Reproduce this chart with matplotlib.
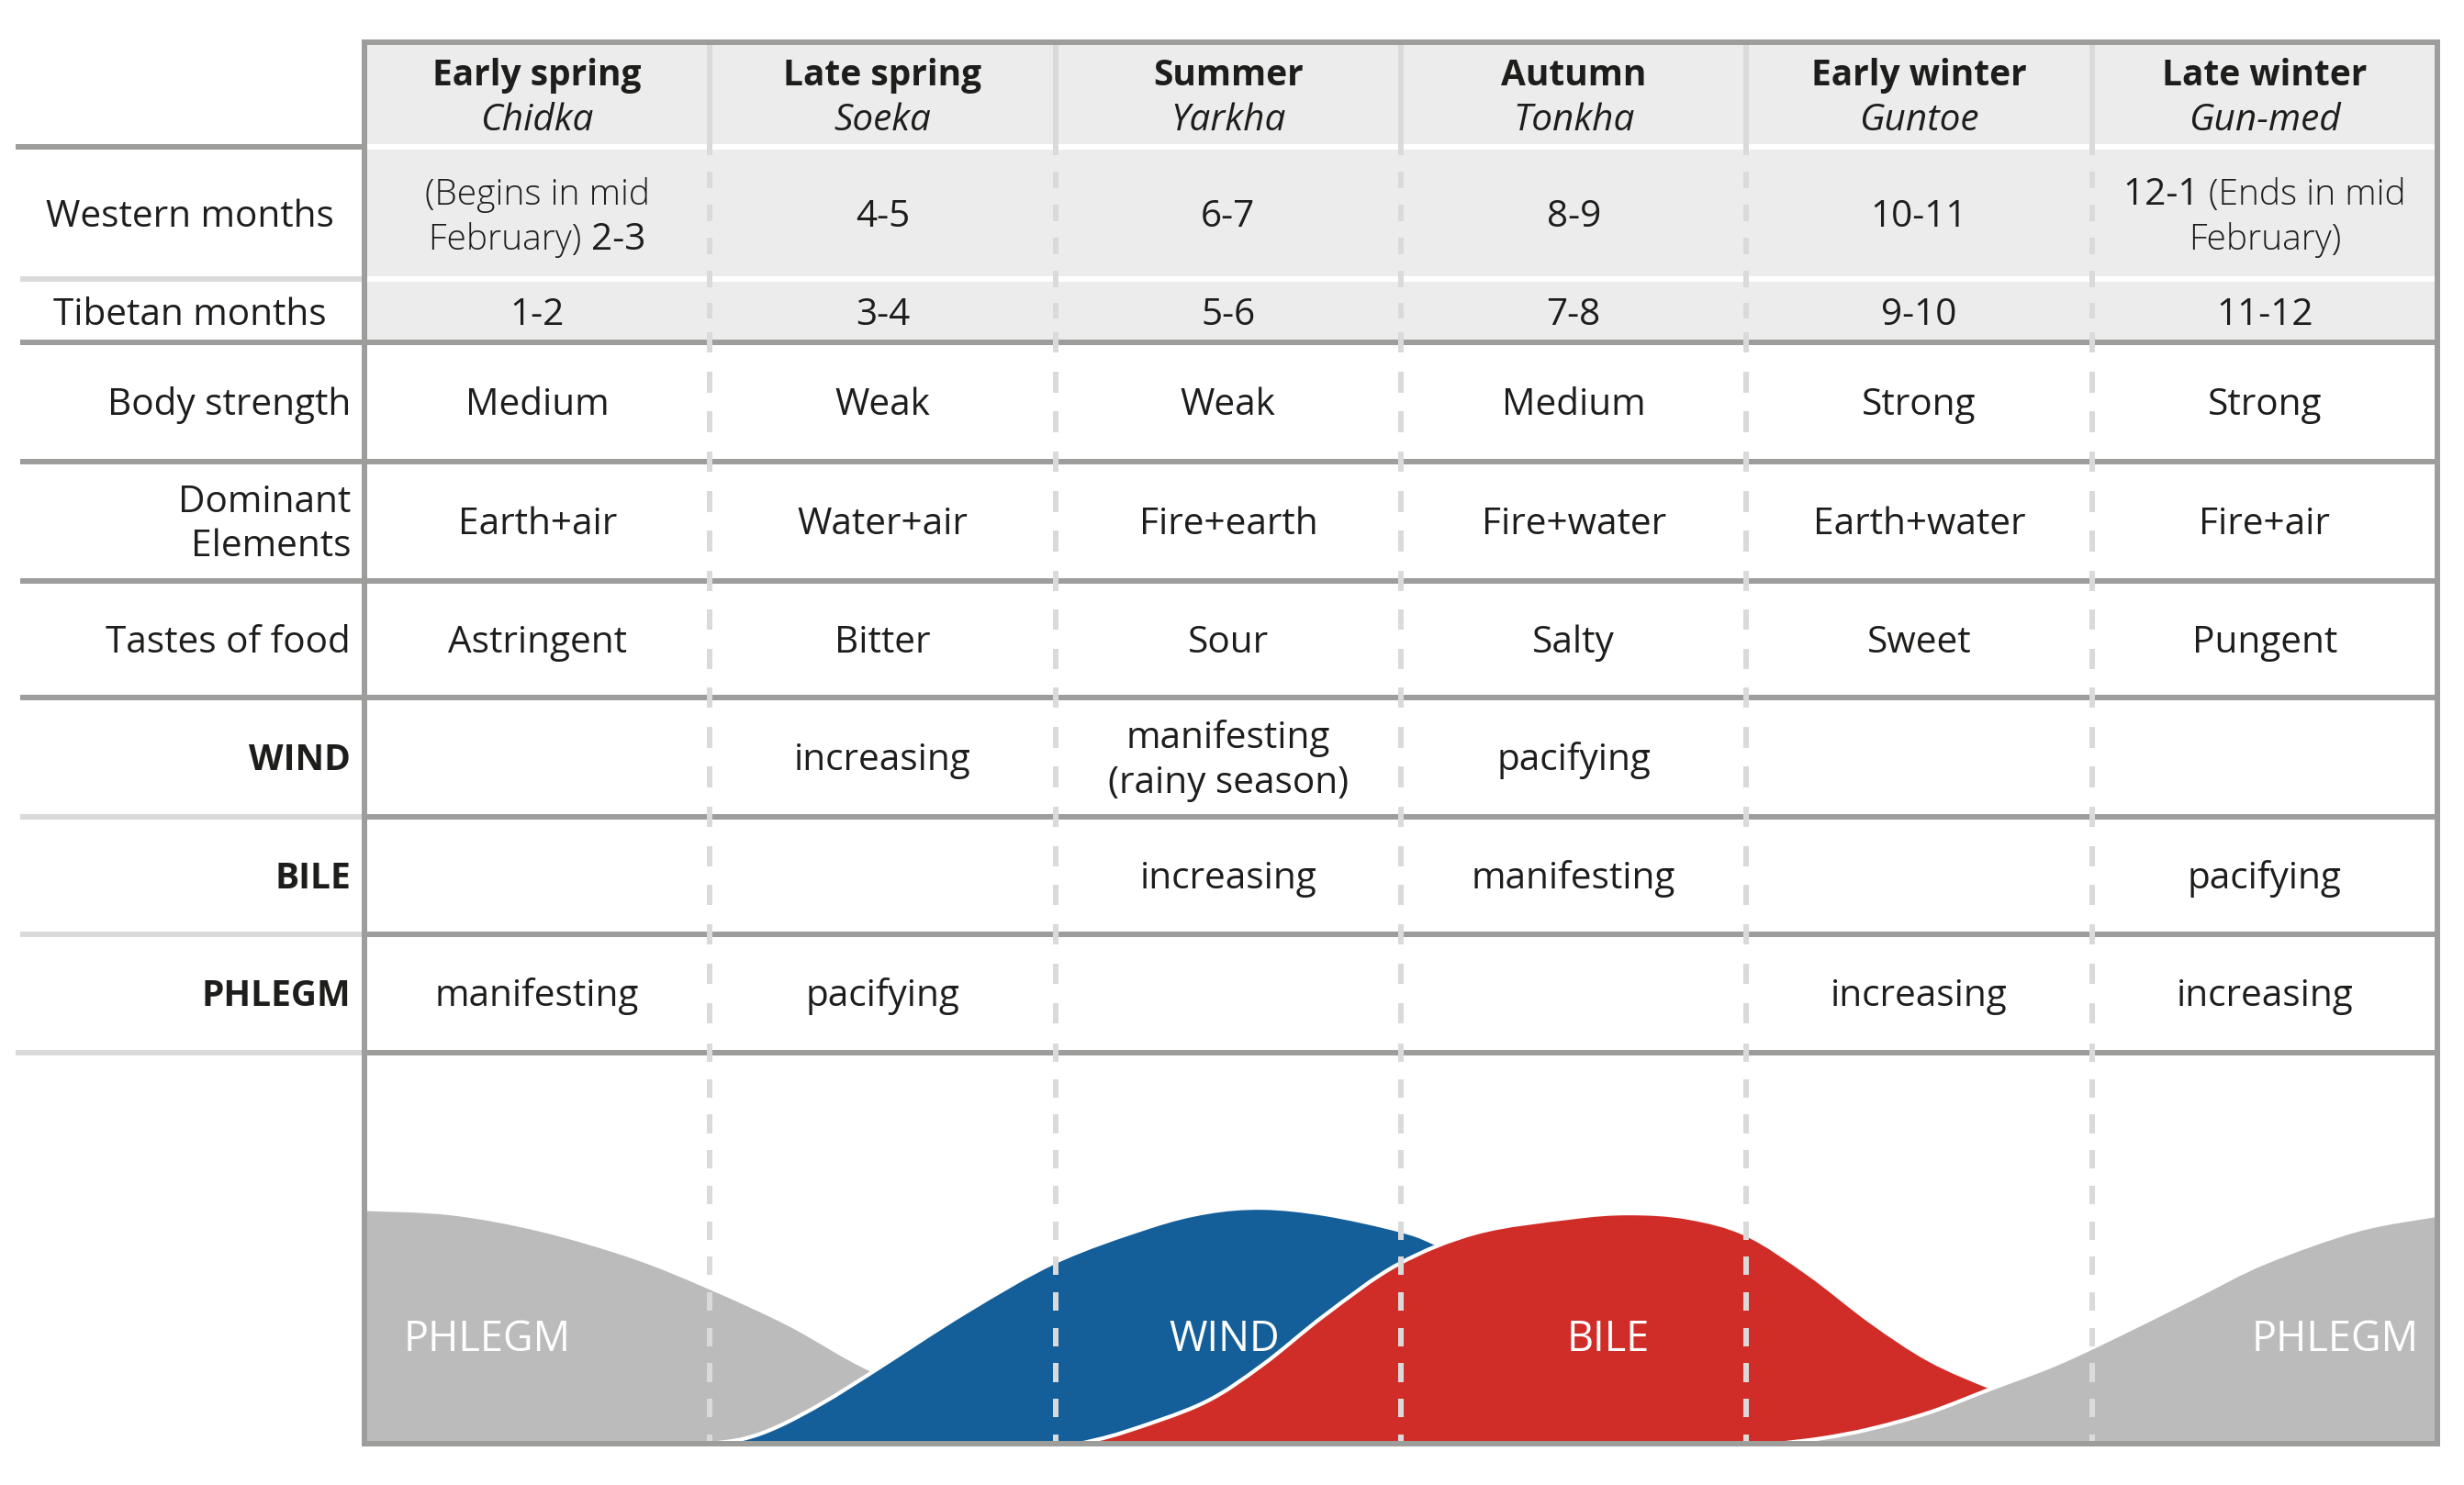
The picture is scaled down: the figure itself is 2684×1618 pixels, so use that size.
import matplotlib
matplotlib.use("Agg")
import matplotlib.pyplot as plt
from matplotlib.path import Path
from matplotlib.patches import PathPatch
from matplotlib.collections import LineCollection
import numpy as np

plt.rcParams['font.family'] = ['Open Sans', 'DejaVu Sans']

# ---------------- data ----------------
seasons = ["Early spring", "Late spring", "Summer", "Autumn", "Early winter", "Late winter"]
tibetan_names = ["Chidka", "Soeka", "Yarkha", "Tonkha", "Guntoe", "Gun-med"]
western_months = ["2-3", "4-5", "6-7", "8-9", "10-11", "12-1"]
western_note_before = ["(Begins in mid February)", "", "", "", "", ""]
western_note_after = ["", "", "", "", "", "(Ends in mid February)"]
tibetan_months = ["1-2", "3-4", "5-6", "7-8", "9-10", "11-12"]
body_strength = ["Medium", "Weak", "Weak", "Medium", "Strong", "Strong"]
dominant_elements = ["Earth+air", "Water+air", "Fire+earth", "Fire+water", "Earth+water", "Fire+air"]
tastes = ["Astringent", "Bitter", "Sour", "Salty", "Sweet", "Pungent"]
wind_phase = ["", "increasing", "manifesting\n(rainy season)", "pacifying", "", ""]
bile_phase = ["", "", "increasing", "manifesting", "", "pacifying"]
phlegm_phase = ["manifesting", "pacifying", "", "", "increasing", "increasing"]

row_labels = ["Western months", "Tibetan months", "Body strength", "Dominant\nElements",
              "Tastes of food", "WIND", "BILE", "PHLEGM"]

# curves: x in season-columns (0..6), level 0..1 of the lower panel
phlegm_early_x = [0.00, 0.25, 0.51, 0.78, 1.00, 1.23, 1.47, 1.75, 2.05, 2.40]
phlegm_early_h = [0.600, 0.589, 0.547, 0.477, 0.399, 0.305, 0.188, 0.100, 0.040, 0.000]

wind_x = [1.00, 1.10, 1.20, 1.33, 1.47, 1.74, 2.00, 2.27, 2.44, 2.60, 2.78, 2.99, 3.10, 3.30, 3.60, 3.90, 4.20, 4.40]
wind_h = [0.000, 0.013, 0.045, 0.106, 0.183, 0.336, 0.465, 0.554, 0.592, 0.603, 0.587, 0.547, 0.512, 0.420, 0.250, 0.100, 0.020, 0.000]

bile_x = [2.07, 2.20, 2.43, 2.60, 2.78, 2.99, 3.22, 3.49, 3.66, 3.83, 4.00, 4.18, 4.36, 4.53, 4.71, 4.90, 5.10, 5.40]
bile_h = [0.000, 0.030, 0.105, 0.202, 0.329, 0.458, 0.540, 0.578, 0.589, 0.578, 0.535, 0.434, 0.312, 0.214, 0.143, 0.080, 0.035, 0.000]

phlegm_late_x = [4.09, 4.22, 4.36, 4.53, 4.71, 4.90, 5.10, 5.30, 5.50, 5.77, 6.00]
phlegm_late_h = [0.000, 0.014, 0.038, 0.080, 0.141, 0.205, 0.288, 0.376, 0.463, 0.547, 0.585]

curve_labels = ["PHLEGM", "WIND", "BILE", "PHLEGM"]
curve_label_x = [0.356, 2.49, 3.60, 5.705]

# ---------------- style / layout ----------------
W, H, DPI = 2684, 1618, 200
DARK = '#9d9d9c'
LIGHT = '#dadada'
HEAD_BG = '#ececec'
TXT = '#1d1d1b'
C_PHLEGM = '#bbbbbb'
C_WIND = '#145e99'
C_BILE = '#d12d28'
FS = 14.6
FS_BOLD = 14.0
FS_LIGHT = 14.0
LW = 6 * 72 / DPI  # 6 px lines

TL, TR = 397, 2655
cw = (TR - TL) / 6
col_c = [TL + cw * (i + 0.5) for i in range(6)]
div_x = [TL + cw * i for i in range(1, 6)]
Y_TOP, Y_HEAD, Y_WEST, Y_TIB = 46, 160, 304, 373
Y_BODY, Y_DOM, Y_TASTE, Y_WIND, Y_BILE, Y_PHL, Y_BOT = 503, 633, 760, 890, 1018, 1147, 1573
LBL_R = 382
LBL_C = 207
CAP = 14  # half cap height in px

fig = plt.figure(figsize=(W / DPI, H / DPI), dpi=DPI)

# lower panel with the curves
axc = fig.add_axes([TL / W, 1 - Y_BOT / H, (TR - TL) / W, (Y_BOT - Y_PHL) / H], zorder=0)
axc.set_xlim(0, 6)
axc.set_ylim(0, 1)
axc.axis('off')


def bezier_curve(xs, hs):
    pts = np.column_stack([xs, hs]).astype(float)
    ext = np.vstack([pts[0], pts, pts[-1]])
    verts = [tuple(pts[0])]
    codes = [Path.MOVETO]
    for i in range(len(pts) - 1):
        p0, p1, p2, p3 = ext[i], ext[i + 1], ext[i + 2], ext[i + 3]
        c1 = p1 + (p2 - p0) / 6.0
        c2 = p2 - (p3 - p1) / 6.0
        verts += [tuple(c1), tuple(c2), tuple(p2)]
        codes += [Path.CURVE4] * 3
    return verts, codes


def draw_curve(xs, hs, color, z):
    v, c = bezier_curve(xs, hs)
    fv = [(xs[0], 0.0)] + v + [(xs[-1], 0.0), (xs[0], 0.0)]
    fc = [Path.MOVETO, Path.LINETO] + c[1:] + [Path.LINETO, Path.CLOSEPOLY]
    axc.add_patch(PathPatch(Path(fv, fc), facecolor=color, edgecolor='none', zorder=z))
    axc.add_patch(PathPatch(Path(v, c), facecolor='none', edgecolor='white',
                            linewidth=1.5, zorder=z + 0.5, capstyle='butt'))


draw_curve(phlegm_early_x, phlegm_early_h, C_PHLEGM, 1)
draw_curve(wind_x, wind_h, C_WIND, 2)
draw_curve(bile_x, bile_h, C_BILE, 3)
draw_curve(phlegm_late_x, phlegm_late_h, C_PHLEGM, 4)

label_h = (Y_BOT - 1472) / (Y_BOT - Y_PHL)
for name, x in zip(curve_labels, curve_label_x):
    axc.text(x, label_h, name, color='white', fontsize=16.2, ha='center', va='baseline', zorder=10)

# table axes in pixel units
ax = fig.add_axes([0, 0, 1, 1], zorder=1)
ax.set_xlim(0, W)
ax.set_ylim(H, 0)
ax.axis('off')

# header / month rows background
ax.add_patch(plt.Rectangle((TL, Y_TOP), TR - TL, Y_TIB - Y_TOP, facecolor=HEAD_BG, edgecolor='none', zorder=0))


def hline(y, x0, x1, color, z=2):
    ax.plot([x0, x1], [y, y], color=color, lw=LW, solid_capstyle='butt', zorder=z)


# white separators inside gray block
hline(Y_HEAD, TL, TR, 'white', 1)
hline(Y_WEST, TL, TR, 'white', 1)
# label area separators
hline(Y_HEAD, 17, TL, DARK)
hline(Y_WEST, 22, TL, LIGHT)
for y in (Y_TIB, Y_BODY, Y_DOM, Y_TASTE):
    hline(y, 22, TR, DARK)
for y, x0 in ((Y_WIND, 22), (Y_BILE, 22), (Y_PHL, 17)):
    hline(y, x0, TL, LIGHT)
    hline(y, TL, TR, DARK)

# dividers: solid in header, dashed below
segs = []
bands = [Y_HEAD, Y_WEST, Y_TIB, Y_BODY, Y_DOM, Y_TASTE, Y_WIND, Y_BILE, Y_PHL, Y_BOT]
for x in div_x:
    segs.append([(x, Y_TOP), (x, Y_HEAD)])
    for a, b in zip(bands[:-1], bands[1:]):
        n = max(1, int(round((b - a) / 40.0)))
        p = (b - a) / n
        d = 0.52 * p
        for k in range(n + (1 if b == Y_BOT else 0)):
            c = a + k * p
            segs.append([(x, max(c - d / 2, Y_TOP)), (x, min(c + d / 2, Y_BOT))])
ax.add_collection(LineCollection(segs, colors=LIGHT, linewidths=LW, capstyle='butt', zorder=3))

# outer frame
ax.plot([TL - 3, TR + 3], [Y_TOP, Y_TOP], color=DARK, lw=LW, solid_capstyle='butt', zorder=4)
ax.plot([TL - 3, TR + 3], [Y_BOT, Y_BOT], color=DARK, lw=LW, solid_capstyle='butt', zorder=4)
ax.plot([TL, TL], [Y_TOP, Y_BOT + 3], color=DARK, lw=LW, solid_capstyle='butt', zorder=4)
ax.plot([TR, TR], [Y_TOP, Y_BOT + 3], color=DARK, lw=LW, solid_capstyle='butt', zorder=4)


def put(x, yc, s, ha='center', size=FS, **kw):
    return ax.text(x, yc + CAP, s, ha=ha, va='baseline', fontsize=size, color=TXT, zorder=6, **kw)


# header
for i in range(6):
    put(col_c[i], 79, seasons[i], fontweight='bold', size=FS_BOLD)
    put(col_c[i], 127.5, tibetan_names[i], style='italic')

renderer = fig.canvas.get_renderer()


def mixed(xc, yc, parts):
    ts = [put(0, yc, s, ha='left', fontweight=w, size=(FS_LIGHT if w == 'light' else FS))
          for s, w in parts]
    ws = [t.get_window_extent(renderer).width for t in ts]
    x = xc - sum(ws) / 2
    for t, w in zip(ts, ws):
        t.set_x(x)
        x += w


# western months
west_c = (Y_HEAD + Y_WEST) / 2 + 1
for i in range(6):
    before, after, val = western_note_before[i], western_note_after[i], western_months[i]
    if before:
        words = before.split(' ')
        mixed(col_c[i], west_c - 24.5, [(' '.join(words[:-1]), 'light')])
        mixed(col_c[i], west_c + 24.5, [(words[-1] + ' ', 'light'), (val, 'normal')])
    elif after:
        words = after.split(' ')
        mixed(col_c[i], west_c - 24.5, [(val + ' ', 'normal'), (' '.join(words[:-1]), 'light')])
        mixed(col_c[i], west_c + 24.5, [(words[-1], 'light')])
    else:
        put(col_c[i], west_c, val)

rows = [
    (tibetan_months, (Y_WEST + Y_TIB) / 2 + 1),
    (body_strength, (Y_TIB + Y_BODY) / 2),
    (dominant_elements, (Y_BODY + Y_DOM) / 2),
    (tastes, (Y_DOM + Y_TASTE) / 2),
    (wind_phase, (Y_TASTE + Y_WIND) / 2),
    (bile_phase, (Y_WIND + Y_BILE) / 2),
    (phlegm_phase, (Y_BILE + Y_PHL) / 2),
]
for vals, yc in rows:
    for i, v in enumerate(vals):
        lines = v.split('\n') if v else []
        n = len(lines)
        for j, ln in enumerate(lines):
            put(col_c[i], yc + (j - (n - 1) / 2) * 49, ln)

# row labels
label_y = [west_c, (Y_WEST + Y_TIB) / 2 + 1] + [yc for _, yc in rows[1:]]
for k, (lab, yc) in enumerate(zip(row_labels, label_y)):
    if k < 2:
        put(LBL_C, yc, lab)
        continue
    bold = lab.isupper()
    lines = lab.split('\n')
    n = len(lines)
    for j, ln in enumerate(lines):
        put(LBL_R, yc + (j - (n - 1) / 2) * 48, ln, ha='right',
            fontweight='bold' if bold else 'normal', size=(FS_BOLD if bold else FS))

fig.savefig('out.png', dpi=DPI, facecolor='white')
